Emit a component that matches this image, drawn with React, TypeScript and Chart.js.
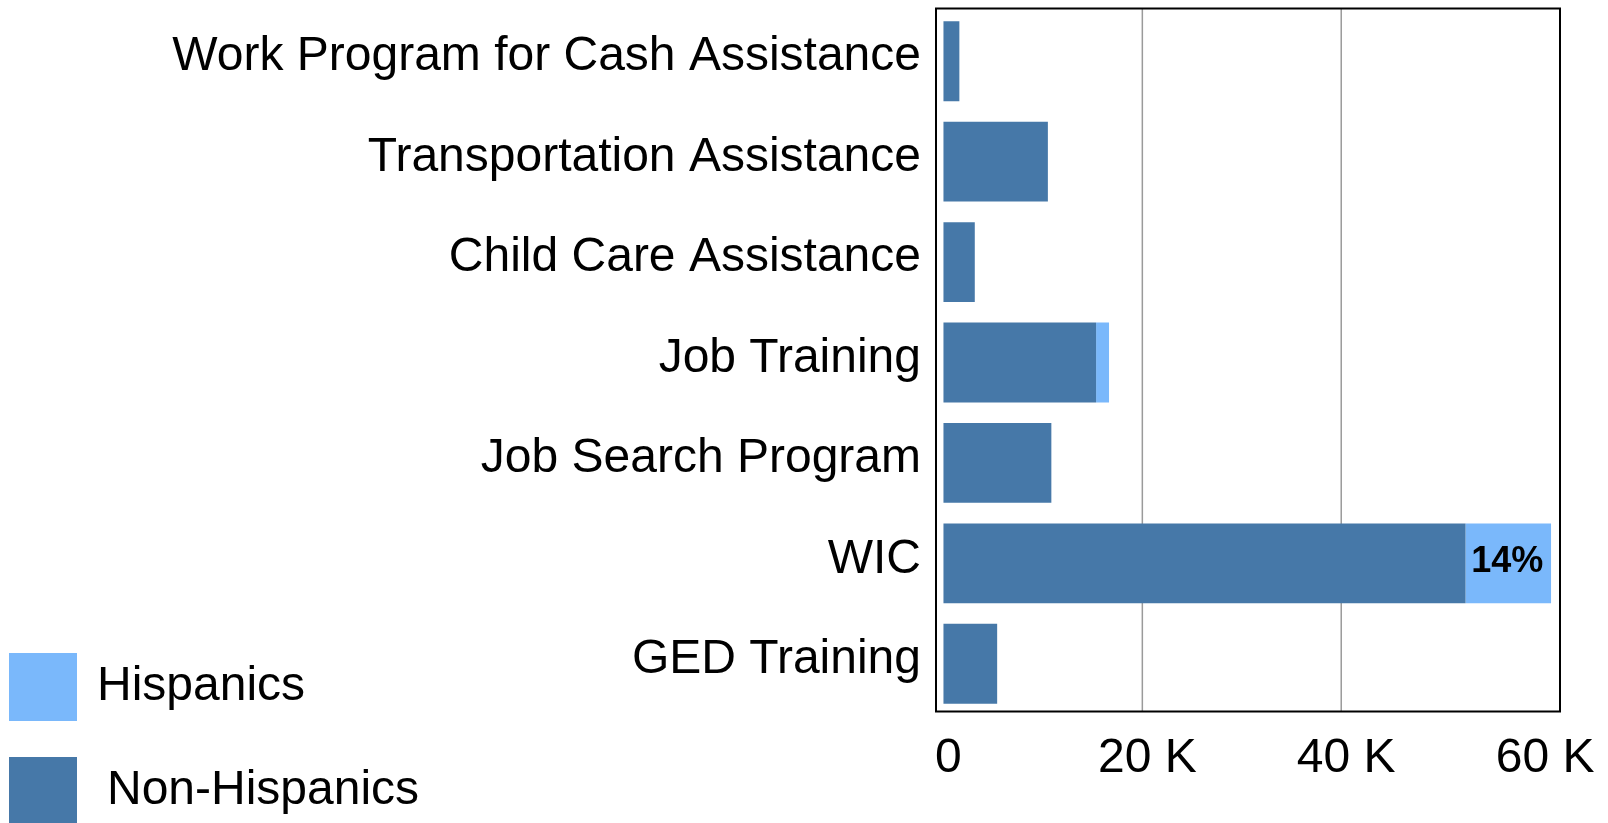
import React, { useEffect, useRef } from "react";
import { Chart, registerables } from "chart.js";

Chart.register(...registerables);

const categories = [
  "Work Program for Cash Assistance",
  "Transportation Assistance",
  "Child Care Assistance",
  "Job Training",
  "Job Search Program",
  "WIC",
  "GED Training",
];
const nonHispanics = [1600, 10500, 3150, 15350, 10850, 52500, 5400];
const hispanics = [0, 0, 0, 1300, 0, 8600, 0];
const xTickValues = [0, 20000, 40000, 60000];
const xTickLabels = ["0", "20 K", "40 K", "60 K"];
const gridValues = [20000, 40000];
const seriesNames = ["Hispanics", "Non-Hispanics"];

const DARK = "#4678a8";
const LIGHT = "#7ab8fb";
const FONT = "'Liberation Sans', Arial, sans-serif";
const FRAME_SHIFT = 2.5;

const gridPlugin = {
  id: "manualGrid",
  beforeDatasetsDraw(chart: any) {
    const { ctx, chartArea } = chart;
    const xs = chart.scales.x;
    ctx.save();
    ctx.strokeStyle = "#9a9a9a";
    ctx.lineWidth = 1.5;
    gridValues.forEach((v) => {
      const px = xs.getPixelForValue(v);
      ctx.beginPath();
      ctx.moveTo(px, chartArea.top - FRAME_SHIFT);
      ctx.lineTo(px, chartArea.bottom - FRAME_SHIFT);
      ctx.stroke();
    });
    ctx.restore();
  },
};

const framePlugin = {
  id: "frame",
  afterDatasetsDraw(chart: any) {
    const { ctx, chartArea } = chart;
    ctx.save();
    ctx.strokeStyle = "#000";
    ctx.lineWidth = 2;
    ctx.strokeRect(
      chartArea.left,
      chartArea.top - FRAME_SHIFT,
      chartArea.right - chartArea.left,
      chartArea.bottom - chartArea.top
    );
    ctx.restore();
  },
};

const shareLabelPlugin = {
  id: "shareLabel",
  afterDatasetsDraw(chart: any) {
    const { ctx } = chart;
    const meta = chart.getDatasetMeta(1);
    ctx.save();
    ctx.font = `bold 36px ${FONT}`;
    ctx.fillStyle = "#000";
    ctx.textAlign = "center";
    ctx.textBaseline = "middle";
    hispanics.forEach((h, i) => {
      const total = h + nonHispanics[i];
      const share = total ? h / total : 0;
      if (share < 0.1) return;
      const el: any = meta.data[i];
      const cx = (el.x + el.base) / 2;
      ctx.fillText(`${Math.round(share * 100)}%`, cx - 1, el.y - 1);
    });
    ctx.restore();
  },
};

const legendPlugin = {
  id: "customLegend",
  afterDraw(chart: any) {
    const { ctx } = chart;
    ctx.save();
    const items = [
      { name: seriesNames[0], color: LIGHT, sy: 653, tx: 97, ty: 700 },
      { name: seriesNames[1], color: DARK, sy: 757, tx: 107, ty: 804 },
    ];
    ctx.font = `48px ${FONT}`;
    ctx.textBaseline = "alphabetic";
    ctx.textAlign = "left";
    items.forEach((it) => {
      ctx.fillStyle = it.color;
      ctx.fillRect(9, it.sy, 68, 68);
      ctx.fillStyle = "#000";
      ctx.fillText(it.name, it.tx, it.ty);
    });
    ctx.restore();
  },
};

export default function App() {
  const ref = useRef<HTMLCanvasElement | null>(null);
  useEffect(() => {
    if (!ref.current) return;
    const chart = new Chart(ref.current, {
      type: "bar",
      data: {
        labels: categories,
        datasets: [
          {
            label: seriesNames[1],
            data: nonHispanics,
            backgroundColor: DARK,
            borderWidth: 0,
            barPercentage: 0.795,
            categoryPercentage: 1,
          },
          {
            label: seriesNames[0],
            data: hispanics,
            backgroundColor: LIGHT,
            borderWidth: 0,
            barPercentage: 0.795,
            categoryPercentage: 1,
          },
        ],
      },
      options: {
        indexAxis: "y",
        animation: false,
        responsive: false,
        devicePixelRatio: 1,
        layout: { padding: { left: 0, right: 48, top: 11, bottom: 0 } },
        plugins: {
          legend: { display: false },
          tooltip: { enabled: false },
        },
        scales: {
          x: {
            stacked: true,
            min: -750,
            max: 62000,
            afterBuildTicks(scale: any) {
              scale.ticks = xTickValues.map((v) => ({ value: v }));
            },
            afterFit(scale: any) {
              scale.height = 823 - 714;
              scale.paddingLeft = 0;
              scale.paddingRight = 0;
            },
            ticks: {
              autoSkip: false,
              maxRotation: 0,
              padding: 16,
              labelOffset: 5,
              color: "#000",
              font: { family: FONT, size: 48 },
              callback: (v: any) => {
                const i = xTickValues.indexOf(Number(v));
                return i >= 0 ? xTickLabels[i] : "";
              },
            },
            grid: { display: false, drawTicks: false },
            border: { display: false },
          },
          y: {
            stacked: true,
            afterFit(scale: any) {
              scale.width = 936;
              scale.paddingTop = 0;
              scale.paddingBottom = 0;
            },
            ticks: {
              padding: 15,
              labelOffset: -4,
              color: "#000",
              font: { family: FONT, size: 48 },
            },
            grid: { display: false, drawTicks: false },
            border: { display: false },
          },
        },
      },
      plugins: [gridPlugin, framePlugin, shareLabelPlugin, legendPlugin],
    });
    return () => chart.destroy();
  }, []);
  return (
    <div style={{ position: "absolute", left: 0, top: 0, width: 1608, height: 823, background: "#fff" }}>
      <canvas ref={ref} width={1608} height={823} style={{ width: 1608, height: 823, display: "block" }} />
    </div>
  );
}
